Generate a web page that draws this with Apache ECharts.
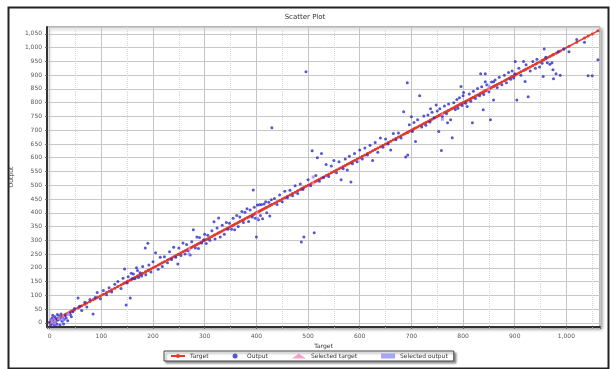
<!DOCTYPE html>
<html>
<head>
<meta charset="utf-8">
<script src="https://cdn.jsdelivr.net/npm/echarts@6/dist/echarts.min.js"></script>
<style>
html,body{margin:0;padding:0;background:#fff;}
#chart{width:610px;height:369px;}
</style>
</head>
<body>
<div id="chart"></div>
<script>
// ---- data ----
const titleText = "Scatter Plot";
const xName = "Target";
const yName = "Output";
const legendNames = ["Target", "Output", "Selected target", "Selected output"];

const targets = [
  0,2,3,5,5,6,8,9,10,12,12,14,15,16,18,20,20,22,24,25,27,28,30,32,35,38,40,42,45,48,
  55,58,62,68,72,78,84,88,92,98,104,110,115,120,126,
  132,138,142,145,148,150,152,156,158,160,162,165,168,170,172,175,178,180,185,186,190,192,196,200,205,210,214,218,222,228,
  232,236,240,244,248,250,254,258,262,265,268,272,275,278,282,285,288,290,294,298,300,303,306,310,314,318,320,324,327,330,
  334,338,342,345,348,352,355,358,362,365,368,372,375,378,382,385,388,392,394,396,398,400,402,404,406,408,410,412,415,418,420,424,426,429,430,
  435,440,445,450,455,460,465,470,475,480,485,487,490,492,496,500,505,508,512,515,518,522,526,530,535,540,545,550,555,560,
  564,568,572,576,580,583,586,590,595,600,605,610,615,620,625,630,635,640,645,650,655,660,665,670,675,680,685,689,692,693,696,700,702,705,708,
  712,716,720,724,728,732,736,737,740,744,748,750,753,755,758,760,764,768,770,772,776,779,782,785,788,790,793,796,798,800,801,805,808,812,815,
  818,820,824,828,832,834,836,839,840,843,843,846,850,853,855,859,859,862,866,870,875,880,884,888,892,895,898,900,901,904,
  908,912,917,920,922,926,930,935,940,943,948,953,955,957,960,963,968,972,974,975,980,984,988,995,1005,1020,1035,1042,1050,1061
];
const outputs = [
  3,-8,12,18,-2,28,6,-10,22,4,15,-5,30,10,25,-8,14,32,6,20,-4,12,26,18,8,35,30,22,40,52,
  90,60,45,75,58,85,32,92,110,88,118,102,128,112,140,
  150,125,162,196,65,145,168,90,180,160,178,160,200,190,165,182,170,205,272,175,289,210,185,222,255,195,238,205,240,218,
  258,230,275,238,214,272,245,290,250,285,262,247,295,338,272,312,270,310,290,302,322,288,318,300,335,367,305,345,381,312,
  355,322,365,340,362,340,380,338,390,350,385,405,365,402,415,368,410,385,483,420,380,312,428,375,429,390,430,378,432,440,400,438,388,447,709,
  452,430,465,440,478,455,482,462,498,470,505,294,485,312,912,520,498,625,327,535,600,515,615,528,575,532,570,590,545,585,
  520,560,595,555,605,512,578,615,585,628,595,635,610,645,590,655,620,672,638,668,650,628,688,665,690,672,767,603,872,610,720,749,695,728,659,
  738,825,712,752,718,755,730,778,765,745,792,770,695,778,626,750,788,760,727,795,738,673,800,775,812,780,818,859,790,825,837,798,786,832,805,
  727,842,815,852,825,905,858,774,830,905,876,865,840,738,875,876,810,882,855,892,865,900,872,910,885,915,890,905,950,810,
  925,900,950,877,938,822,915,950,925,958,930,943,895,995,965,945,940,945,920,887,905,985,900,995,985,1030,1020,898,898,956
];
// a few highlighted (selected) samples
const selTargets = [4, 10, 18, 26, 36, 270, 402, 510, 760, 850];
const selOutputs = [10, 2, 20, 12, 30, 250, 380, 530, 740, 860];

// ---- chart ----
const targetLine = targets.map(t => [t, t]).sort((a, b) => a[0] - b[0]);
const outputPts = targets.map((t, i) => [t, outputs[i]]);
const selTargetPts = selTargets.map(t => [t, t]);
const selOutputPts = selTargets.map((t, i) => [t, selOutputs[i]]);

const fmt = v => v.toLocaleString('en-US');
const chart = echarts.init(document.getElementById('chart'), null, {renderer: 'canvas'});
chart.setOption({
  animation: false,
  backgroundColor: '#ffffff',
  title: {
    text: titleText, left: 'center', top: 9,
    textStyle: {fontSize: 7, fontWeight: 'normal', color: '#333', fontFamily: 'DejaVu Sans'}
  },
  graphic: [{
    type: 'rect', left: 6, top: 5, shape: {width: 600, height: 361},
    style: {fill: 'none', stroke: '#222', lineWidth: 2}, silent: true, z: 100
  }],
  grid: {
    left: 45, right: 10, top: 27, bottom: 42, show: true,
    borderColor: '#777', borderWidth: 1, backgroundColor: '#fff',
    shadowColor: 'rgba(0,0,0,0.35)', shadowBlur: 3, shadowOffsetX: 2, shadowOffsetY: 2
  },
  legend: {
    data: legendNames, left: 164, top: 351, orient: 'horizontal',
    itemWidth: 14, itemHeight: 5, itemGap: 24,
    padding: [2, 6], borderColor: '#444', borderWidth: 1, backgroundColor: '#fff',
    shadowColor: 'rgba(0,0,0,0.4)', shadowBlur: 2, shadowOffsetX: 2, shadowOffsetY: 2,
    textStyle: {fontSize: 6, color: '#333', fontFamily: 'DejaVu Sans'}
  },
  xAxis: {
    type: 'value', min: -5, max: 1065, splitNumber: 10,
    name: xName, nameLocation: 'middle', nameGap: 15,
    nameTextStyle: {fontSize: 6, color: '#333', fontFamily: 'DejaVu Sans'},
    axisLine: {show: true, onZero: false, lineStyle: {color: '#333', width: 2}},
    axisTick: {show: true, length: 2, lineStyle: {color: '#666'}},
    minorTick: {show: true, splitNumber: 2, length: 2, lineStyle: {color: '#999'}},
    axisLabel: {fontSize: 6, color: '#555', margin: 6, showMinLabel: false, showMaxLabel: false,
      formatter: fmt, fontFamily: 'DejaVu Sans'},
    splitLine: {show: true, lineStyle: {color: '#c4c4c4', width: 1}},
    minorSplitLine: {show: true, lineStyle: {color: '#d6d6d6', width: 1, type: 'dotted'}}
  },
  yAxis: {
    type: 'value', min: -15, max: 1075, splitNumber: 22,
    name: yName, nameLocation: 'middle', nameGap: 25, nameRotate: 90,
    nameTextStyle: {fontSize: 6, color: '#333', fontFamily: 'DejaVu Sans'},
    axisLine: {show: true, onZero: false, lineStyle: {color: '#333', width: 2}},
    axisTick: {show: true, length: 2, lineStyle: {color: '#666'}},
    axisLabel: {fontSize: 6, color: '#555', margin: 5, showMinLabel: false, showMaxLabel: false,
      formatter: fmt, fontFamily: 'DejaVu Sans'},
    splitLine: {show: true, lineStyle: {color: '#c8c8c8', width: 1}}
  },
  series: [
    {
      name: 'Target', type: 'line', data: targetLine, z: 3,
      symbol: 'circle', symbolSize: 3, showSymbol: true,
      lineStyle: {color: '#e23a2e', width: 1.5},
      itemStyle: {color: '#e23a2e'}
    },
    {
      name: 'Output', type: 'scatter', data: outputPts, z: 4,
      symbol: 'circle', symbolSize: 3,
      itemStyle: {color: '#2c2cc8'}
    },
    {
      name: 'Selected target', type: 'scatter', data: selTargetPts, z: 5,
      symbol: 'triangle', symbolSize: 4,
      itemStyle: {color: '#ff88bb'}
    },
    {
      name: 'Selected output', type: 'scatter', data: selOutputPts, z: 5,
      symbol: 'rect', symbolSize: 3,
      itemStyle: {color: '#8f8fff'}
    }
  ]
});
</script>
</body>
</html>
